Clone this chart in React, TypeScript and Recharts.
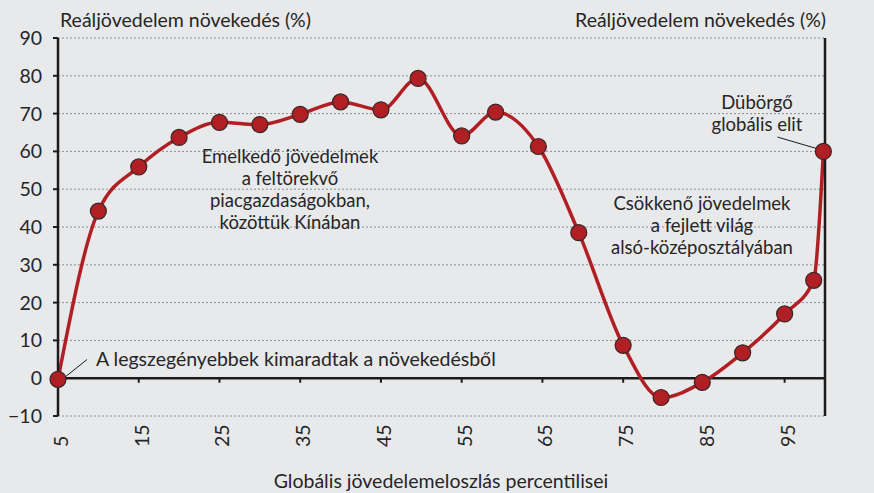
import React from 'react';
import {
  ComposedChart,
  Line,
  XAxis,
  YAxis,
  CartesianGrid,
  ReferenceLine,
} from 'recharts';

const percentiles = [5, 10, 15, 20, 25, 30, 35, 40, 45, 49.6, 55, 59.2, 64.5, 69.5, 75, 79.7, 84.8, 89.8, 95, 98.6, 99.8];
const growth = [-0.3, 44.2, 55.9, 63.7, 67.7, 67.1, 69.8, 73.1, 71.0, 79.3, 64.1, 70.4, 61.3, 38.5, 8.7, -5.1, -1.1, 6.7, 17.0, 25.9, 60.0];

const xTicks = [5, 15, 25, 35, 45, 55, 65, 75, 85, 95];
const yTicks = [-10, 0, 10, 20, 30, 40, 50, 60, 70, 80, 90];

const yTitle = 'Reáljövedelem növekedés (%)';
const xTitle = 'Globális jövedelemeloszlás percentilisei';
const notePoor = 'A legszegényebbek kimaradtak a növekedésből';
const noteRising = ['Emelkedő jövedelmek', 'a feltörekvő', 'piacgazdaságokban,', 'közöttük Kínában'];
const noteFalling = ['Csökkenő jövedelmek', 'a fejlett világ', 'alsó-középosztályában'];
const noteElite = ['Dübörgő', 'globális elit'];

const data = percentiles.map((p, i) => ({ p, g: growth[i] }));

const FONT = 'Lato, "Open Sans", sans-serif';
const FS = 19.5;
const NOTE_FS = 18.5;
const LINE_H = 22.2;
const TEXT = '#262626';
const RED = '#b01f24';
const AXIS = '#1c1c1c';

const minus = (v: number) => (v < 0 ? `\u2212${Math.abs(v)}` : `${v}`);

const XTick = (props: any) => {
  const { x, y, payload } = props;
  return (
    <text
      transform={`translate(${x + 10},${y + 31}) rotate(-90)`}
      textAnchor="start"
      fontSize={FS}
      fontFamily={FONT}
      fill={TEXT}
    >
      {payload.value}
    </text>
  );
};

// multi-line centred note, centred vertically on cy
const Note = ({ lines, x, cy }: { lines: string[]; x: number; cy: number }) => {
  const y0 = cy - ((lines.length - 1) * LINE_H) / 2;
  return (
    <>
      {lines.map((s, i) => (
        <text key={s} x={x} y={y0 + i * LINE_H} textAnchor="middle" fontSize={NOTE_FS}>
          {s}
        </text>
      ))}
    </>
  );
};

export default function App() {
  const W = 874;
  const H = 493;
  return (
    <div style={{ position: 'relative', width: W, height: H, background: '#e8e9eb', fontFamily: FONT }}>
      <style>{'body{margin:0;background:#e8e9eb}'}</style>
      <ComposedChart
        width={W}
        height={H}
        data={data}
        margin={{ top: 38, right: 0, left: 0, bottom: 0 }}
      >
        <CartesianGrid vertical={false} stroke="#8e8e8e" strokeDasharray="2 2" />
        <XAxis
          dataKey="p"
          type="number"
          domain={[5, 100]}
          ticks={xTicks}
          interval={0}
          height={77}
          axisLine={false}
          tickLine={false}
          tickSize={0}
          tickMargin={0}
          tick={<XTick />}
        />
        <YAxis
          domain={[-10, 90]}
          ticks={yTicks}
          interval={0}
          width={58}
          axisLine={{ stroke: AXIS, strokeWidth: 2.5 }}
          tickLine={{ stroke: AXIS, strokeWidth: 2 }}
          tickSize={5}
          tickMargin={11}
          tick={{ fontSize: FS, fill: TEXT, fontFamily: FONT }}
          tickFormatter={minus}
        />
        <YAxis
          yAxisId="right"
          orientation="right"
          domain={[-10, 90]}
          ticks={yTicks}
          interval={0}
          width={49}
          axisLine={{ stroke: AXIS, strokeWidth: 2.5 }}
          tickLine={{ stroke: AXIS, strokeWidth: 2 }}
          tickSize={6}
          tickMargin={9}
          tick={{ fontSize: FS, fill: TEXT, fontFamily: FONT, textAnchor: 'start' }}
          tickFormatter={minus}
        />
        <ReferenceLine y={0} stroke={AXIS} strokeWidth={2.5} />
        {xTicks.slice(1).map((t) => (
          <ReferenceLine
            key={t}
            segment={[{ x: t, y: 0 }, { x: t, y: -1.2 }]}
            stroke={AXIS}
            strokeWidth={2}
          />
        ))}
        <ReferenceLine segment={[{ x: 5.9, y: 0.35 }, { x: 8.6, y: 4.95 }]} stroke={AXIS} strokeWidth={1} />
        <ReferenceLine segment={[{ x: 94.1, y: 63.8 }, { x: 98.9, y: 60.8 }]} stroke={AXIS} strokeWidth={1} />
        <Line
          type="monotone"
          dataKey="g"
          stroke={RED}
          strokeWidth={3.5}
          dot={{ r: 8, fill: RED, stroke: '#3a2626', strokeWidth: 1.2 }}
          activeDot={false}
          isAnimationActive={false}
        />
      </ComposedChart>
      <svg
        width={W}
        height={H}
        style={{ position: 'absolute', left: 0, top: 0, pointerEvents: 'none' }}
        fontFamily={FONT}
        fontSize={FS}
        fill={TEXT}
      >
        <text x={60} y={27}>{yTitle}</text>
        <text x={826} y={27} textAnchor="end">{yTitle}</text>
        <text x={441} y={488} textAnchor="middle">{xTitle}</text>
        <text x={96} y={366}>{notePoor}</text>
        <Note lines={noteRising} x={290} cy={196} />
        <Note lines={noteFalling} x={702} cy={232} />
        <Note lines={noteElite} x={757} cy={120} />
      </svg>
    </div>
  );
}
